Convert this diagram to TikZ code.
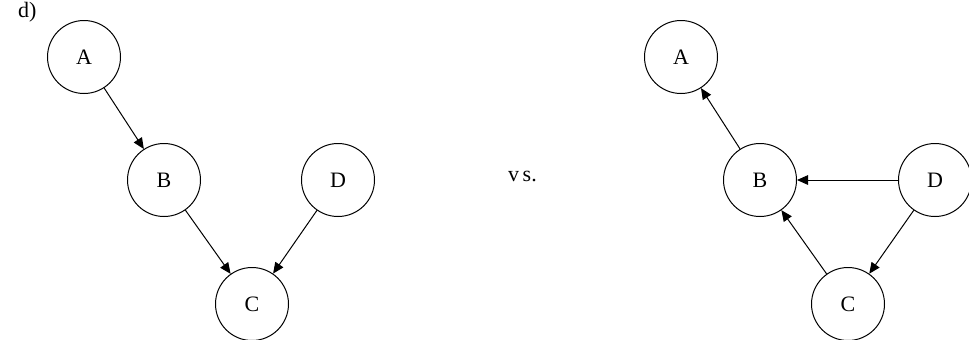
\documentclass[tikz,border=0pt]{standalone}
\usepackage{fontspec}
\setmainfont{Liberation Serif}
\usetikzlibrary{positioning,arrows.meta}
\tikzset{
  var/.style={circle, draw, line width=0.5pt, minimum size=36.5pt, inner sep=0pt, font=\fontsize{11}{13}\selectfont},
  edge/.style={-{Triangle[length=5.5pt,width=4.8pt]}, line width=0.5pt},
}
\begin{document}
\begin{tikzpicture}[x=0.5pt,y=-0.5pt]
      \useasboundingbox (0,0) rectangle (969,339);
      \node[anchor=base west, font=\fontsize{11}{13}\selectfont] (Tag) at (11,17.5) {d)};
      % left graph
      \node[var] (LA) at (84,57) {A};
      \node[var, on grid, below right=61.5pt and 40pt of LA] (LB) {B};
      \node[var, on grid, right=87pt of LB] (LD) {D};
      \node[var, on grid, below right=62pt and 44pt of LB] (LC) {C};
      \draw[edge] (LA) to (LB);
      \draw[edge] (LB) to (LC);
      \draw[edge] (LD) to (LC);
      \node[anchor=base west, font=\fontsize{11}{13}\selectfont] (Vs) at (501,181) {v\,s.};
      % right graph
      \node[var] (RA) at (681,57) {A};
      \node[var, on grid, below right=61.5pt and 39.5pt of RA] (RB) {B};
      \node[var, on grid, right=87.5pt of RB] (RD) {D};
      \node[var, on grid, below right=62pt and 44pt of RB] (RC) {C};
      \draw[edge] (RB) to (RA);
      \draw[edge] (RD) to (RB);
      \draw[edge] (RC) to (RB);
      \draw[edge] (RD) to (RC);
    \end{tikzpicture}
\end{document}
